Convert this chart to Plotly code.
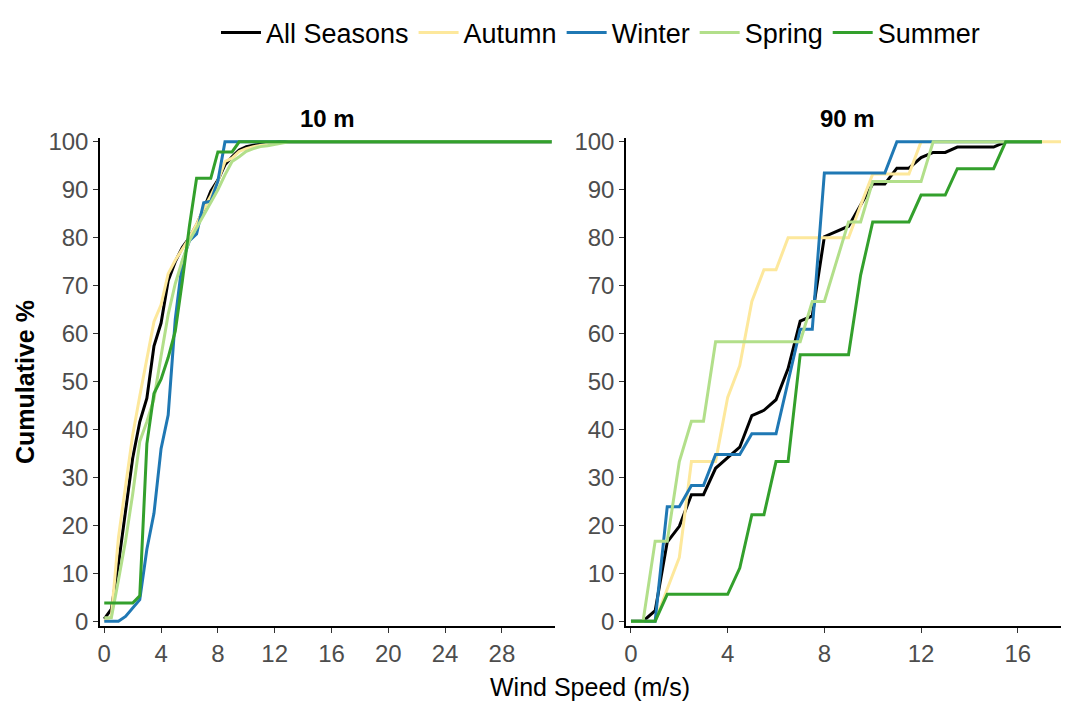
import plotly.graph_objects as go

# ---------------- data ----------------
SERIES = ["All Seasons", "Autumn", "Winter", "Spring", "Summer"]
COLORS = ["#000000", "#FDE89C", "#1F78B4", "#B2DF8A", "#33A02C"]

SPEED_10 = [0, 0.5, 1, 1.5, 2, 2.5, 3, 3.5, 4, 4.5, 5, 5.5, 6, 6.5, 7, 7.5,
            8, 8.5, 9, 9.5, 10, 10.5, 11, 11.5, 12, 12.5, 13, 31.5]
ALL_10 = [0.5, 2.5, 12, 23, 34, 41.6, 46.5, 57.4, 62.2, 71, 75, 78, 80, 82.7,
          86, 89.7, 92, 95.2, 96.9, 98.3, 99, 99.3, 99.5, 99.7, 99.8, 100, 100, 100]
AUT_10 = [0, 1, 17.5, 28.5, 38.8, 47, 54.6, 62.5, 66, 72.5, 75.3, 77.7, 80, 82.8,
          86, 88.7, 91.8, 95.9, 96.6, 98, 98.6, 99, 99.3, 99.5, 99.7, 100, 100, 100]
WIN_10 = [0, 0, 0, 1, 2.7, 4.5, 15, 22.5, 36, 43, 63, 75, 79.4, 80.8,
          87.3, 87.6, 91.8, 100, 100, 100, 100, 100, 100, 100, 100, 100, 100, 100]
SPR_10 = [0.7, 0.7, 8.6, 16.8, 26.5, 37.5, 41.6, 46.4, 55.3, 64, 70.4, 75.3, 79.4, 82,
          84.5, 87.3, 90, 93.1, 95.9, 96.9, 98, 98.6, 99, 99.2, 99.5, 99.7, 100, 100]
SUM_10 = [3.8, 3.8, 3.8, 3.8, 3.8, 5.3, 37, 47.5, 50.5, 55, 60.5, 71, 82.5, 92.4,
          92.4, 92.4, 97.9, 97.9, 97.9, 100, 100, 100, 100, 100, 100, 100, 100, 100]

SPEED_90 = [0, 0.5, 1, 1.5, 2, 2.5, 3, 3.5, 4, 4.5, 5, 5.5, 6, 6.5, 7, 7.5, 8, 8.5,
            9, 9.5, 10, 10.5, 11, 11.5, 12, 12.5, 13, 13.5, 14, 14.5, 15, 15.5, 16,
            16.5, 17, 17.5, 18, 18.5]
ALL_90 = [0, 0, 2.2, 16.5, 19.8, 26.4, 26.4, 31.9, 34.1, 36.3, 42.9, 44.0, 46.2, 52.7,
          62.6, 63.7, 80.2, 81.3, 82.4, 86.8, 91.2, 91.2, 94.5, 94.5, 96.7, 97.8, 97.8,
          98.9, 98.9, 98.9, 98.9, 100, 100, 100, 100]
AUT_90 = [0, 0, 0, 6.7, 13.3, 33.3, 33.3, 33.3, 46.7, 53.3, 66.7, 73.3, 73.3, 80,
          80, 80, 80, 80, 80, 86.7, 93.3, 93.3, 93.3, 93.3, 100, 100, 100, 100, 100,
          100, 100, 100, 100, 100, 100, 100, 100, 100]
WIN_90 = [0, 0, 0, 23.9, 23.9, 28.3, 28.3, 34.8, 34.8, 34.8, 39.1, 39.1, 39.1, 50,
          60.9, 60.9, 93.5, 93.5, 93.5, 93.5, 93.5, 93.5, 100, 100, 100, 100, 100,
          100, 100, 100, 100, 100, 100, 100, 100]
SPR_90 = [0, 0, 16.7, 16.7, 33.3, 41.7, 41.7, 58.3, 58.3, 58.3, 58.3, 58.3, 58.3, 58.3,
          58.3, 66.7, 66.7, 75, 83.3, 83.3, 91.7, 91.7, 91.7, 91.7, 91.7, 100, 100,
          100, 100, 100, 100, 100, 100, 100, 100]
SUM_90 = [0, 0, 0, 5.6, 5.6, 5.6, 5.6, 5.6, 5.6, 11.1, 22.2, 22.2, 33.3, 33.3,
          55.6, 55.6, 55.6, 55.6, 55.6, 72.2, 83.3, 83.3, 83.3, 83.3, 88.9, 88.9, 88.9,
          94.4, 94.4, 94.4, 94.4, 100, 100, 100, 100]

Y_TICKS = [0, 10, 20, 30, 40, 50, 60, 70, 80, 90, 100]
X_TICKS_10 = [0, 4, 8, 12, 16, 20, 24, 28]
X_TICKS_90 = [0, 4, 8, 12, 16]

PANEL_TITLES = ["10 m", "90 m"]
X_TITLE = "Wind Speed (m/s)"
Y_TITLE = "Cumulative %"

# ---------------- figure ----------------
FONT = "Arial, 'Liberation Sans', sans-serif"
fig = go.Figure()

vals_10 = [ALL_10, AUT_10, WIN_10, SPR_10, SUM_10]
vals_90 = [ALL_90, AUT_90, WIN_90, SPR_90, SUM_90]

for name, col, v in zip(SERIES, COLORS, vals_10):
    fig.add_trace(go.Scatter(x=SPEED_10[:len(v)], y=v, mode="lines", name=name,
                             line=dict(color=col, width=3), legendgroup=name,
                             showlegend=True, xaxis="x", yaxis="y"))
for name, col, v in zip(SERIES, COLORS, vals_90):
    fig.add_trace(go.Scatter(x=SPEED_90[:len(v)], y=v, mode="lines", name=name,
                             line=dict(color=col, width=3), legendgroup=name,
                             showlegend=False, xaxis="x2", yaxis="y2"))

axis_common = dict(showgrid=False, zeroline=False, showline=True, linecolor="black",
                   linewidth=1.5, ticks="outside", ticklen=5, tickwidth=1.2,
                   tickcolor="#333333", tickfont=dict(family=FONT, size=24, color="#4D4D4D"))

fig.update_layout(
    width=1061, height=694,
    margin=dict(l=92, r=0, t=120, b=76),
    plot_bgcolor="white", paper_bgcolor="white",
    font=dict(family=FONT),
    xaxis=dict(domain=[0, 0.4696], range=[-0.3, 31.74], tickvals=X_TICKS_10, anchor="y",
               **axis_common),
    yaxis=dict(domain=[0, 1], range=[-1.0, 100.8], tickvals=Y_TICKS, anchor="x",
               **axis_common),
    xaxis2=dict(domain=[0.5428, 1], range=[-0.207, 18.12], tickvals=X_TICKS_90, anchor="y2",
                **axis_common),
    yaxis2=dict(domain=[0, 1], range=[-1.0, 100.8], tickvals=Y_TICKS, anchor="x2",
                **axis_common),
    legend=dict(orientation="h", x=0.5165, xanchor="center", y=1.2153, yanchor="middle",
                font=dict(family=FONT, size=27, color="black"), itemwidth=40,
                bgcolor="rgba(0,0,0,0)"),
    annotations=[
        dict(text="<b>" + PANEL_TITLES[0] + "</b>", x=0.2348, y=1.0402, xref="paper", yref="paper",
             showarrow=False, xanchor="center", yanchor="middle",
             font=dict(family=FONT, size=24, color="black")),
        dict(text="<b>" + PANEL_TITLES[1] + "</b>", x=0.7714, y=1.0402, xref="paper", yref="paper",
             showarrow=False, xanchor="center", yanchor="middle",
             font=dict(family=FONT, size=24, color="black")),
        dict(text=X_TITLE, x=0.5057, y=-0.1245, xref="paper", yref="paper",
             showarrow=False, xanchor="center", yanchor="middle",
             font=dict(family=FONT, size=25, color="black")),
        dict(text="<b>" + Y_TITLE + "</b>", x=-0.0774, y=0.5, xref="paper", yref="paper",
             showarrow=False, xanchor="center", yanchor="middle", textangle=-90,
             font=dict(family=FONT, size=25, color="black")),
    ],
)

fig.write_html("out.html")
